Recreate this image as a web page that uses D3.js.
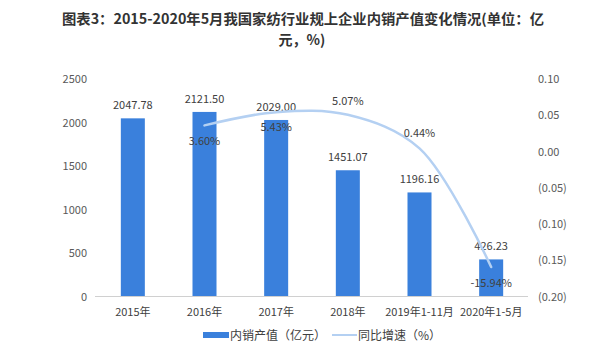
<!DOCTYPE html>
<html><head><meta charset="utf-8">
<script src="https://cdn.jsdelivr.net/npm/d3@7"></script>
<style>body{margin:0;background:#fff}svg{display:block}</style>
</head><body>
<svg id="c" width="600" height="356"></svg>
<script>
const categories = ["2015年","2016年","2017年","2018年","2019年1-11月","2020年1-5月"];
const salesValues = [2047.78, 2121.50, 2029.00, 1451.07, 1196.16, 426.23];
const growthCategories = ["2016年","2017年","2018年","2019年1-11月","2020年1-5月"];
const growthValues = [0.0360, 0.0543, 0.0507, 0.0044, -0.1594];
const growthLabels = ["3.60%","5.43%","5.07%","0.44%","-15.94%"];
const leftTicks = [0,500,1000,1500,2000,2500];
const rightTicks = [0.10,0.05,0.00,-0.05,-0.10,-0.15,-0.20];
const titleLines = ["图表3：2015-2020年5月我国家纺行业规上企业内销产值变化情况(单位：亿","元，%)"];
const legendNames = ["内销产值（亿元）","同比增速（%）"];

const svg = d3.select("#c");
const font = "'Noto Sans CJK SC','Noto Sans',sans-serif";
const barColor = "#3a80dc", lineColor = "#b4d0f2", txt = "#404040";

svg.append("text").attr("x",303).attr("y",24).attr("text-anchor","middle")
  .attr("font-family",font).attr("font-weight","bold").attr("font-size",14).attr("fill","#333")
  .attr("textLength",482).attr("lengthAdjust","spacingAndGlyphs").text(titleLines[0]);
svg.append("text").attr("x",302).attr("y",44.5).attr("text-anchor","middle")
  .attr("font-family",font).attr("font-weight","bold").attr("font-size",14).attr("fill","#333")
  .text(titleLines[1]);

const x = d3.scaleBand().domain(categories).range([97,527]).paddingInner(0.665).paddingOuter(0.3325);
const y = d3.scaleLinear().domain([0,2500]).range([296.5,79]);
const y2 = d3.scaleLinear().domain([-0.2,0.1]).range([296.5,79]);

// left axis
const la = svg.append("g").attr("transform","translate(95,0)")
  .call(d3.axisLeft(y).tickValues(leftTicks).tickFormat(d3.format("d")).tickSize(0).tickPadding(8));
la.select(".domain").remove();
la.selectAll("text").attr("font-family",font).attr("font-size",11).attr("fill","#595959");

// right axis
const fmtR = v => { const s = Math.abs(v).toFixed(2); return v < -1e-9 ? "("+s+")" : s; };
const ra = svg.append("g").attr("transform","translate(530,0)")
  .call(d3.axisRight(y2).tickValues(rightTicks).tickFormat(fmtR).tickSize(0).tickPadding(8));
ra.select(".domain").remove();
ra.selectAll("text").attr("font-family",font).attr("font-size",11).attr("fill","#595959");

// bars
svg.append("g").selectAll("rect").data(salesValues).join("rect")
  .attr("x",(d,i)=>x(categories[i])).attr("width",x.bandwidth())
  .attr("y",d=>y(d)).attr("height",d=>y(0)-y(d)).attr("fill",barColor);

// x axis
const xa = svg.append("g").attr("transform","translate(0,296.5)")
  .call(d3.axisBottom(x).tickSize(0).tickPadding(12));
xa.select(".domain").attr("stroke","#d0d0d0").attr("d","M95,0H528");
xa.selectAll("text").attr("font-family",font).attr("font-size",11).attr("fill",txt);

// bar labels
svg.append("g").selectAll("text").data(salesValues).join("text")
  .attr("x",(d,i)=>x(categories[i])+x.bandwidth()/2).attr("y",d=>y(d)-9)
  .attr("text-anchor","middle").attr("font-family",font).attr("font-size",11).attr("fill",txt)
  .text(d=>d.toFixed(2));

// line
const cx = c => x(c)+x.bandwidth()/2;
const line = d3.line().x((d,i)=>cx(growthCategories[i])).y(d=>y2(d)).curve(d3.curveCatmullRom.alpha(0.5));
svg.append("path").attr("d",line(growthValues)).attr("fill","none")
  .attr("stroke",lineColor).attr("stroke-width",2.5).attr("stroke-linecap","round");

// line labels
const off = [16, 15, -14, -15, 16];
svg.append("g").selectAll("text").data(growthValues).join("text")
  .attr("x",(d,i)=>cx(growthCategories[i])).attr("y",(d,i)=>y2(d)+off[i]+4)
  .attr("text-anchor","middle").attr("font-family",font).attr("font-size",11).attr("fill",txt)
  .text((d,i)=>growthLabels[i]);

// legend
const lg = svg.append("g").attr("font-family",font).attr("font-size",12).attr("fill",txt);
lg.append("rect").attr("x",203).attr("y",332).attr("width",26).attr("height",6).attr("fill",barColor);
lg.append("text").attr("x",230).attr("y",339.5).text(legendNames[0]);
lg.append("line").attr("x1",332).attr("x2",357).attr("y1",335).attr("y2",335).attr("stroke",lineColor).attr("stroke-width",2);
lg.append("text").attr("x",358).attr("y",339.5).text(legendNames[1]);
</script>
</body></html>
